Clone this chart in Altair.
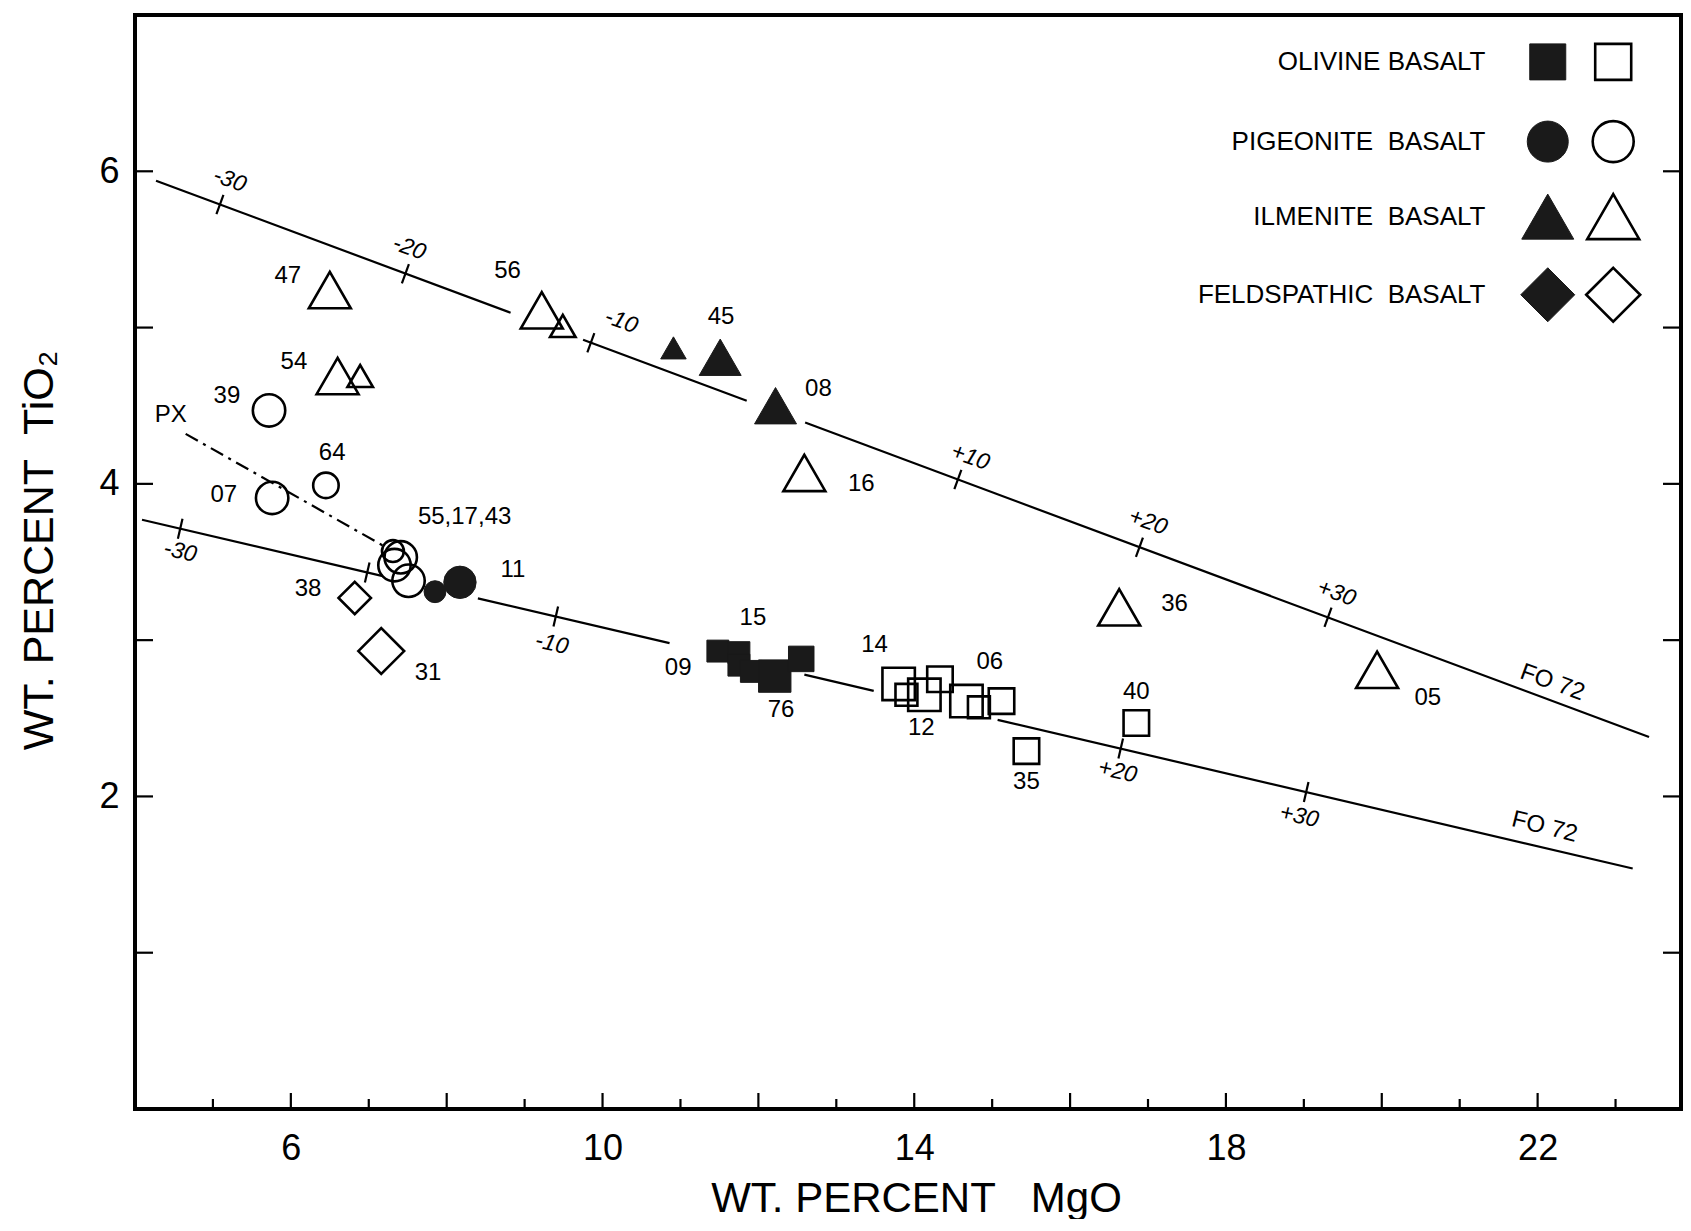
import altair as alt
import pandas as pd

# ---------------- values ----------------
# individual basalt samples: MgO (wt %), TiO2 (wt %), basalt type, filled/open symbol, symbol size class
s_mgo = [6.50, 9.22, 9.49, 6.60, 6.89, 12.59, 16.63, 19.94,
         10.91, 11.51, 12.22,
         5.72, 5.76, 6.45, 7.31, 7.41, 7.33, 7.51,
         7.85, 8.17,
         6.82, 7.16,
         11.48, 11.75, 11.75, 11.91, 12.21, 12.55,
         13.80, 13.90, 14.13, 14.33, 14.67, 14.83, 15.12, 15.44, 16.85]
s_tio2 = [5.24, 5.11, 5.01, 4.69, 4.69, 4.07, 3.21, 2.81,
          4.87, 4.81, 4.50,
          4.47, 3.91, 3.99, 3.57, 3.53, 3.48, 3.38,
          3.31, 3.37,
          3.27, 2.93,
          2.93, 2.92, 2.84, 2.80, 2.77, 2.88,
          2.72, 2.65, 2.65, 2.75, 2.61, 2.57, 2.61, 2.29, 2.47]
s_type = ["ilmenite"] * 11 + ["pigeonite"] * 9 + ["feldspathic"] * 2 + ["olivine"] * 15
s_fill = (["open"] * 8 + ["filled"] * 3 + ["open"] * 7 + ["filled"] * 2 +
          ["open"] * 2 + ["filled"] * 6 + ["open"] * 9)
s_cls = ["L", "L", "S", "L", "S", "L", "L", "L",
         "S", "L", "L",
         "M", "M", "S", "XS", "M", "M", "M",
         "XS", "M",
         "M", "XL",
         "XS", "XS", "XS", "XS", "M", "S",
         "M", "XS", "M", "S", "M", "XS", "S", "S", "S"]

# sample numbers written beside the symbols
lab_text = ["47", "56", "54", "45", "08", "16", "36", "05", "39", "07", "64", "55,17,43",
            "11", "38", "31", "PX", "15", "09", "76", "14", "06", "12", "35", "40"]
lab_x = [5.96, 8.78, 6.04, 11.52, 12.77, 13.32, 17.34, 20.59, 5.18, 5.14, 6.53, 8.23,
         8.85, 6.22, 7.76, 4.46, 11.93, 10.97, 12.29, 13.49, 14.97, 14.09, 15.44, 16.85]
lab_y = [5.33, 5.36, 4.78, 5.07, 4.61, 4.00, 3.23, 2.63, 4.56, 3.93, 4.20, 3.79,
         3.45, 3.33, 2.79, 4.44, 3.14, 2.82, 2.55, 2.97, 2.86, 2.44, 2.09, 2.67]

# FO72 olivine control lines (drawn pieces, interrupted at the symbols)
up_seg = [1, 1, 2, 2, 3, 3]
up_x = [4.27, 8.82, 9.75, 11.85, 12.60, 23.43]
up_y = [5.94, 5.095, 4.922, 4.532, 4.392, 2.38]
lo_seg = [1, 1, 2, 2, 3, 3, 4, 4]
lo_x = [4.09, 7.18, 8.40, 10.86, 12.59, 13.48, 15.07, 23.22]
lo_y = [3.77, 3.41, 3.267, 2.981, 2.779, 2.675, 2.49, 1.539]

# olivine addition / subtraction marks along the lines
up_tick_x = [5.09, 7.47, 9.85, 14.56, 16.89, 19.31]
up_tick_y = [5.788, 5.345, 4.903, 4.028, 3.595, 3.146]
up_tick_text = ["-30", "-20", "-10", "+10", "+20", "+30"]
up_tlab_x = [5.215, 7.52, 10.24, 14.72, 17.00, 19.42]
up_tlab_y = [5.944, 5.51, 5.04, 4.171, 3.756, 3.301]
lo_tick_x = [4.58, 6.98, 9.40, 16.65, 19.03]
lo_tick_y = [3.713, 3.433, 3.151, 2.306, 2.028]
lo_tick_text = ["-30", "-10", "+20", "+30"]
lo_tlab_x = [4.58, 9.35, 16.61, 18.94]
lo_tlab_y = [3.566, 2.977, 2.16, 1.873]
fo_text = ["FO 72", "FO 72"]
fo_x = [22.19, 22.09]
fo_y = [2.729, 1.804]

# pyroxene (PX) control line
px_x = [4.65, 7.20]
px_y = [4.32, 3.60]

# legend entries drawn inside the frame
leg_text = ["OLIVINE BASALT", "PIGEONITE\u00a0\u00a0BASALT", "ILMENITE\u00a0\u00a0BASALT",
            "FELDSPATHIC\u00a0\u00a0BASALT"]
leg_type = ["olivine", "pigeonite", "ilmenite", "feldspathic"]
leg_y = [6.70, 6.19, 5.71, 5.21]
leg_text_x = 21.33
leg_fill_x = 22.13
leg_open_x = 22.97

x_long_ticks = [6, 8, 10, 12, 14, 16, 18, 20, 22]
x_short_ticks = [5, 7, 9, 11, 13, 15, 17, 19, 21, 23]
y_ticks = [1, 2, 3, 4, 5, 6]

# ---------------- styling ----------------
FONT = "Liberation Sans"
W, H = 1546, 1094
INK = "#1a1a1a"
SYMBOL_AREA = {"XS": 480, "S": 650, "M": 1050, "L": 1760, "XL": 2100}
LEGEND_AREA = {"olivine": 1296, "pigeonite": 1681, "ilmenite": 2704, "feldspathic": 2916}

# ---------------- tables ----------------
samples = pd.DataFrame(dict(x=s_mgo, y=s_tio2, kind=s_type, fill=s_fill, cls=s_cls))
samples["area"] = samples["cls"].map(SYMBOL_AREA)
labels = pd.DataFrame(dict(x=lab_x, y=lab_y, t=lab_text))
up_line = pd.DataFrame(dict(x=up_x, y=up_y, seg=up_seg))
lo_line = pd.DataFrame(dict(x=lo_x, y=lo_y, seg=lo_seg))
up_ticks = pd.DataFrame(dict(x=up_tick_x, y=up_tick_y))
lo_ticks = pd.DataFrame(dict(x=lo_tick_x, y=lo_tick_y))
up_tlabs = pd.DataFrame(dict(x=up_tlab_x, y=up_tlab_y, t=up_tick_text))
lo_tlabs = pd.DataFrame(dict(x=lo_tlab_x, y=lo_tlab_y, t=lo_tick_text))
fo_up = pd.DataFrame(dict(x=fo_x[:1], y=fo_y[:1], t=fo_text[:1]))
fo_lo = pd.DataFrame(dict(x=fo_x[1:], y=fo_y[1:], t=fo_text[1:]))
px = pd.DataFrame(dict(x=px_x, y=px_y))
leg_txt = pd.DataFrame(dict(x=[leg_text_x] * 4, y=leg_y, t=leg_text))
leg_sym = pd.DataFrame(dict(x=[leg_fill_x] * 4 + [leg_open_x] * 4, y=leg_y * 2,
                            kind=leg_type * 2, fill=["filled"] * 4 + ["open"] * 4))
leg_sym["area"] = leg_sym["kind"].map(LEGEND_AREA)
xt_long = pd.DataFrame(dict(x=x_long_ticks))
xt_short = pd.DataFrame(dict(x=x_short_ticks))
yt = pd.DataFrame(dict(y=y_ticks))

xscale = alt.Scale(domain=[4, 23.84], nice=False, zero=False)
yscale = alt.Scale(domain=[0, 7], nice=False, zero=False)
xaxis = alt.Axis(values=[6, 10, 14, 18, 22], ticks=False, domain=False, grid=False,
                 labelFont=FONT, labelFontSize=36, labelPadding=22, labelColor="black",
                 title="WT. PERCENT\u00a0\u00a0 MgO", titleFont=FONT, titleFontSize=42,
                 titleFontWeight="normal", titleColor="black", titleY=102,
                 titleBaseline="alphabetic", titleX=781, titleAlign="center")
yaxis = alt.Axis(values=[2, 4, 6], ticks=False, domain=False, grid=False,
                 labelFont=FONT, labelFontSize=36, labelPadding=16, labelColor="black",
                 title="WT. PERCENT\u00a0\u00a0TiO\u2082", titleFont=FONT, titleFontSize=43,
                 titleFontWeight="normal", titleColor="black", titleX=-83, titleY=535,
                 titleBaseline="alphabetic", titleAlign="center")


def X():
    return alt.X("x:Q", scale=xscale, axis=xaxis)


def Y():
    return alt.Y("y:Q", scale=yscale, axis=yaxis)


shape_enc = alt.Shape("kind:N", scale=alt.Scale(
    domain=["olivine", "pigeonite", "ilmenite", "feldspathic"],
    range=["square", "circle", "triangle-up", "diamond"]), legend=None)
size_enc = alt.Size("area:Q", scale=None, legend=None)

layers = []

# control lines
layers.append(alt.Chart(up_line).mark_line(color="black", strokeWidth=2.2).encode(
    x=X(), y=Y(), detail="seg:N"))
layers.append(alt.Chart(lo_line).mark_line(color="black", strokeWidth=2.2).encode(
    x=X(), y=Y(), detail="seg:N"))
layers.append(alt.Chart(px).mark_line(color="black", strokeWidth=2.2,
                                      strokeDash=[14, 6, 3, 6]).encode(x=X(), y=Y()))
layers.append(alt.Chart(up_ticks).mark_point(shape="M0,-1L0,1", angle=20, size=420,
                                             color="black", strokeWidth=2.2, opacity=1)
              .encode(x=X(), y=Y()))
layers.append(alt.Chart(lo_ticks).mark_point(shape="M0,-1L0,1", angle=13, size=420,
                                             color="black", strokeWidth=2.2, opacity=1)
              .encode(x=X(), y=Y()))

# inward axis ticks
layers.append(alt.Chart(xt_long).mark_rule(color="black", strokeWidth=2.2).encode(
    x=X(), y=alt.value(H), y2=alt.value(H - 16)))
layers.append(alt.Chart(xt_short).mark_rule(color="black", strokeWidth=2.2).encode(
    x=X(), y=alt.value(H), y2=alt.value(H - 10)))
layers.append(alt.Chart(yt).mark_rule(color="black", strokeWidth=2.2).encode(
    y=Y(), x=alt.value(0), x2=alt.value(18)))
layers.append(alt.Chart(yt).mark_rule(color="black", strokeWidth=2.2).encode(
    y=Y(), x=alt.value(W), x2=alt.value(W - 18)))

# sample symbols
layers.append(alt.Chart(samples).transform_filter(alt.datum.fill == "open")
              .mark_point(filled=False, color="black", strokeWidth=2.6, opacity=1)
              .encode(x=X(), y=Y(), shape=shape_enc, size=size_enc))
layers.append(alt.Chart(samples).transform_filter(alt.datum.fill == "filled")
              .mark_point(filled=True, color=INK, stroke=INK, strokeWidth=1, opacity=1)
              .encode(x=X(), y=Y(), shape=shape_enc, size=size_enc))

# text annotations
layers.append(alt.Chart(labels).mark_text(font=FONT, fontSize=24, color="black",
                                          align="center", baseline="middle")
              .encode(x=X(), y=Y(), text="t:N"))
layers.append(alt.Chart(up_tlabs).mark_text(font=FONT, fontSize=23, fontStyle="italic",
                                            color="black", angle=20, align="center",
                                            baseline="middle")
              .encode(x=X(), y=Y(), text="t:N"))
layers.append(alt.Chart(lo_tlabs).mark_text(font=FONT, fontSize=23, fontStyle="italic",
                                            color="black", angle=13, align="center",
                                            baseline="middle")
              .encode(x=X(), y=Y(), text="t:N"))
layers.append(alt.Chart(fo_up).mark_text(font=FONT, fontSize=24, color="black", angle=20,
                                         align="center", baseline="middle")
              .encode(x=X(), y=Y(), text="t:N"))
layers.append(alt.Chart(fo_lo).mark_text(font=FONT, fontSize=24, color="black", angle=14,
                                         align="center", baseline="middle")
              .encode(x=X(), y=Y(), text="t:N"))

# legend inside the frame
layers.append(alt.Chart(leg_txt).mark_text(font=FONT, fontSize=26, color="black",
                                           align="right", baseline="middle")
              .encode(x=X(), y=Y(), text="t:N"))
layers.append(alt.Chart(leg_sym).transform_filter(alt.datum.fill == "open")
              .mark_point(filled=False, color="black", strokeWidth=2.6, opacity=1)
              .encode(x=X(), y=Y(), shape=shape_enc, size=size_enc))
layers.append(alt.Chart(leg_sym).transform_filter(alt.datum.fill == "filled")
              .mark_point(filled=True, color=INK, stroke=INK, strokeWidth=1, opacity=1)
              .encode(x=X(), y=Y(), shape=shape_enc, size=size_enc))

chart = alt.layer(*layers).properties(
    width=W, height=H,
    autosize=alt.AutoSizeParams(type="none"),
    padding={"left": 127, "top": 7, "right": 2, "bottom": 110},
    background="white",
).configure_view(stroke="black", strokeWidth=4).configure_axis(grid=False)

chart.save("out.html", embed_options={"renderer": "svg", "actions": False})
